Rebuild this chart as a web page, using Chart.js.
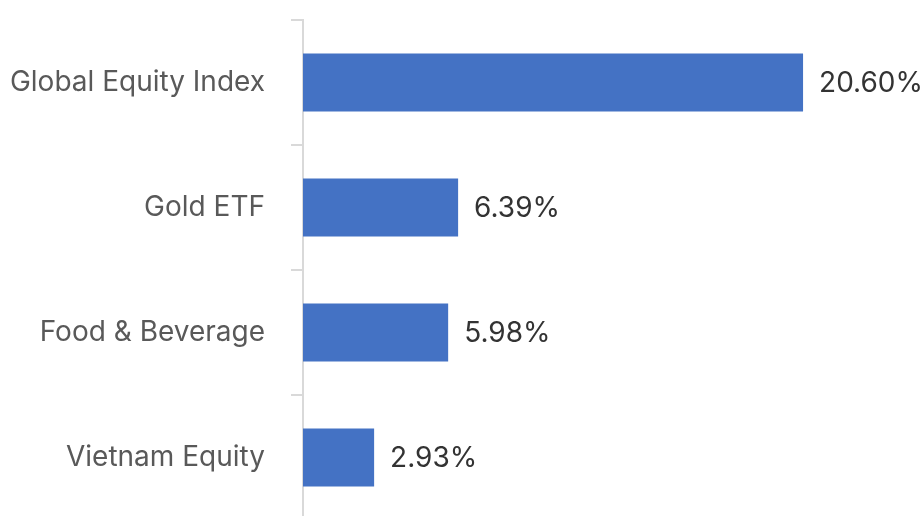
<!DOCTYPE html>
<html>
<head>
<meta charset="utf-8">
<script src="https://cdn.jsdelivr.net/npm/chart.js@4/dist/chart.umd.min.js"></script>
<style>
  html, body { margin: 0; padding: 0; background: #fff; overflow: hidden; }
  #wrap { width: 922px; height: 520px; position: relative; }
</style>
</head>
<body>
<div id="wrap"><canvas id="c"></canvas></div>
<script>
const categories = ["Global Equity Index", "Gold ETF", "Food & Beverage", "Vietnam Equity"];
const returns = [20.60, 6.39, 5.98, 2.93];
const valueLabels = ["20.60%", "6.39%", "5.98%", "2.93%"];

const FONT = "Inter, 'Liberation Sans', Arial, sans-serif";

const valuePlugin = {
  id: 'valueLabels',
  afterDatasetsDraw(chart) {
    const ctx = chart.ctx;
    const meta = chart.getDatasetMeta(0);
    ctx.save();
    ctx.font = "28px " + FONT;
    ctx.fillStyle = "#333333";
    ctx.textAlign = "left";
    ctx.textBaseline = "middle";
    meta.data.forEach((bar, i) => {
      ctx.fillText(valueLabels[i], bar.x + 16, bar.y + 1);
    });
    ctx.restore();
  }
};

new Chart(document.getElementById('c'), {
  type: 'bar',
  data: {
    labels: categories,
    datasets: [{
      data: returns,
      backgroundColor: '#4472C4',
      borderWidth: 0,
      barPercentage: 0.464,
      categoryPercentage: 1.0
    }]
  },
  options: {
    indexAxis: 'y',
    responsive: true,
    maintainAspectRatio: false,
    animation: false,
    layout: { padding: { top: 20, right: 0, bottom: 0, left: 0 } },
    plugins: { legend: { display: false }, tooltip: { enabled: false } },
    scales: {
      x: { display: false, min: 0, max: 25.5 },
      y: {
        afterFit(scale) { scale.width = 303; scale.paddingTop = 0; scale.paddingBottom = 0; },
        border: { display: true, color: '#d9d9d9', width: 2 },
        grid: { drawOnChartArea: false, drawTicks: true, tickLength: 12, color: '#d9d9d9', lineWidth: 2, offset: true },
        ticks: { padding: 26, color: '#595959', font: { family: FONT, size: 28 } }
      }
    }
  },
  plugins: [valuePlugin]
});
</script>
</body>
</html>
